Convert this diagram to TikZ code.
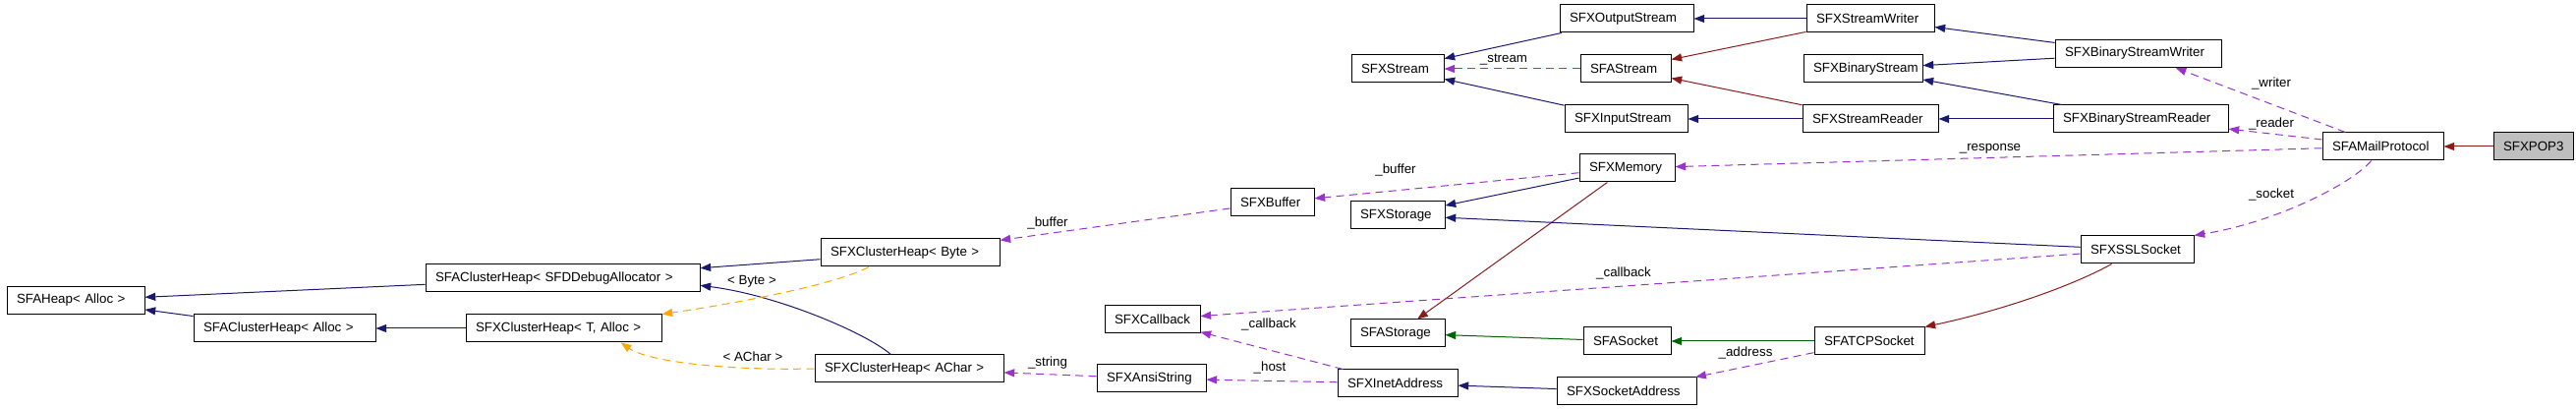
\documentclass[tikz,border=0pt]{standalone}
\usepackage{fontspec}
\setmainfont{Liberation Sans}
\usetikzlibrary{arrows.meta,positioning}
\definecolor{InheritBlue}{HTML}{191970}
\definecolor{ProtectedRed}{HTML}{8B1A1A}
\definecolor{PrivateGreen}{HTML}{006400}
\definecolor{UsageViolet}{HTML}{9A32CD}
\definecolor{TemplateOrange}{HTML}{FFA500}
\definecolor{FocusGrey}{HTML}{BFBFBF}

\begin{document}
\begin{tikzpicture}[
    x=0.75pt, y=-0.75pt,
    cls/.style={rectangle, draw=black, line width=0.75pt, minimum height=21pt, inner xsep=7.5pt, inner ysep=0pt, text width={(#1-20)*0.75pt}, align=left, font=\fontsize{10}{12}\selectfont},
    lbl/.style={inner sep=0pt, font=\fontsize{10}{12}\selectfont},
    link/.style={line width=0.75pt, -{Triangle[length=8pt,width=6pt]}},
    pub/.style={link, InheritBlue},
    prot/.style={link, ProtectedRed},
    priv/.style={link, PrivateGreen},
    uses/.style={link, UsageViolet, dash pattern=on 6pt off 4pt},
    tmpl/.style={link, TemplateOrange, dash pattern=on 6pt off 4pt}
  ]
    \useasboundingbox (0,0) rectangle (2621,416);

    % heaps
    \node[cls=140] (heap) at (77,305.5) {SFAHeap< Alloc >};
    \node[cls=279] (debugheap) at (572.5,283) {SFAClusterHeap< SFDDebugAllocator >};
    \node[cls=185] (aheap) at (289.5,334) {SFAClusterHeap< Alloc >};
    \node[cls=199, right=68.25pt of aheap] (theap) {SFXClusterHeap< T, Alloc >};
    \node[cls=182] (byteheap) at (926,257) {SFXClusterHeap< Byte >};
    \node[cls=192] (acharheap) at (925,375) {SFXClusterHeap< AChar >};
    \node[cls=85] (buffer) at (1294.5,206) {SFXBuffer};
    \node[cls=97] (callback) at (1172.5,325) {SFXCallback};
    \node[cls=111] (ansistring) at (1171.5,385) {SFXAnsiString};

    % storage and sockets
    \node[cls=122] (inetaddr) at (1422,390) {SFXInetAddress};
    \node[cls=142] (sockaddr) at (1655,398) {SFXSocketAddress};
    \node[cls=96] (astorage) at (1422,339) {SFAStorage};
    \node[cls=89] (asocket) at (1655.5,347) {SFASocket};
    \node[cls=112, right=108.75pt of asocket] (tcpsocket) {SFATCPSocket};
    \node[cls=115] (sslsocket) at (2174.5,254) {SFXSSLSocket};
    \node[cls=96] (storage) at (1422,219) {SFXStorage};
    \node[cls=97] (memory) at (1655.5,171) {SFXMemory};

    % streams
    \node[cls=94] (stream) at (1422,70) {SFXStream};
    \node[cls=136] (ostream) at (1655,19) {SFXOutputStream};
    \node[cls=92] (astream) at (1654,70) {SFAStream};
    \node[cls=125] (istream) at (1654.5,121) {SFXInputStream};
    \node[cls=130, right=85.5pt of ostream] (swriter) {SFXStreamWriter};
    \node[cls=121] (bstream) at (1895.5,70) {SFXBinaryStream};
    \node[cls=138, right=87pt of istream] (sreader) {SFXStreamReader};
    \node[cls=169] (bwriter) at (2175.5,54.5) {SFXBinaryStreamWriter};
    \node[cls=178, right=87pt of sreader] (breader) {SFXBinaryStreamReader};
    \node[cls=123] (mail) at (2424.5,149) {SFAMailProtocol};
    \node[cls=81, fill=FocusGrey, right=37.5pt of mail] (pop3) {SFXPOP3};

    % edge labels
    \node[lbl] (lbyte) at (765,286) {< Byte >};
    \node[lbl] (lachar) at (766,363) {< AChar >};
    \node[lbl] (lbufa) at (1066,227) {\_buffer};
    \node[lbl] (lbufb) at (1420,173) {\_buffer};
    \node[lbl] (lstring) at (1066,369) {\_string};
    \node[lbl] (lcbka) at (1291,330) {\_callback};
    \node[lbl] (lhost) at (1292,374) {\_host};
    \node[lbl] (lcbkb) at (1652,278) {\_callback};
    \node[lbl] (laddr) at (1776,359) {\_address};
    \node[lbl] (lstream) at (1530,61) {\_stream};
    \node[lbl] (lwriter) at (2311,85) {\_writer};
    \node[lbl] (lreader) at (2311,126) {\_reader};
    \node[lbl] (lresp) at (2025,151) {\_response};
    \node[lbl] (lsocket) at (2311,198) {\_socket};

    \draw[pub] (debugheap) -- (heap);
    \draw[pub] (aheap) -- (heap);
    \draw[pub] (theap) -- (aheap);
    \draw[pub] (byteheap) -- (debugheap);
    \draw[pub] (acharheap.142) .. controls (880,338) and (790,300) .. (debugheap.-3);
    \draw[tmpl] (byteheap.199) .. controls (850,290) and (740,310) .. (theap.north east);
    \draw[tmpl] (acharheap.west) .. controls (740,377) and (660,368) .. (theap.-14);
    \draw[uses] (buffer) -- (byteheap);
    \draw[uses] (memory) -- (buffer);
    \draw[pub] (memory) -- (storage);
    \draw[prot] (memory) -- (astorage);
    \draw[pub] (sslsocket) -- (storage);
    \draw[uses] (sslsocket) -- (callback);
    \draw[priv] (asocket) -- (astorage);
    \draw[priv] (tcpsocket) -- (asocket);
    \draw[prot] (sslsocket) .. controls (2110,290) and (2040,315) .. (tcpsocket.north east);
    \draw[uses] (tcpsocket) -- (sockaddr);
    \draw[pub] (sockaddr) -- (inetaddr);
    \draw[uses] (inetaddr) -- (ansistring);
    \draw[uses] (inetaddr) -- (callback);
    \draw[uses] (ansistring) -- (acharheap);

    \draw[pub] (ostream) -- (stream);
    \draw[uses] (astream) -- (stream);
    \draw[pub] (istream) -- (stream);
    \draw[pub] (swriter) -- (ostream);
    \draw[prot] (swriter) -- (astream);
    \draw[prot] (sreader) -- (astream);
    \draw[pub] (sreader) -- (istream);
    \draw[pub] (bwriter) -- (swriter);
    \draw[pub] (bwriter) -- (bstream);
    \draw[pub] (breader) -- (bstream);
    \draw[pub] (breader) -- (sreader);

    \draw[uses] (mail) -- (bwriter);
    \draw[uses] (mail) -- (breader);
    \draw[uses] (mail) -- (memory);
    \draw[uses] (mail) .. controls (2395,185) and (2320,225) .. (sslsocket.north east);
    \draw[prot] (pop3) -- (mail);
\end{tikzpicture}
\end{document}
